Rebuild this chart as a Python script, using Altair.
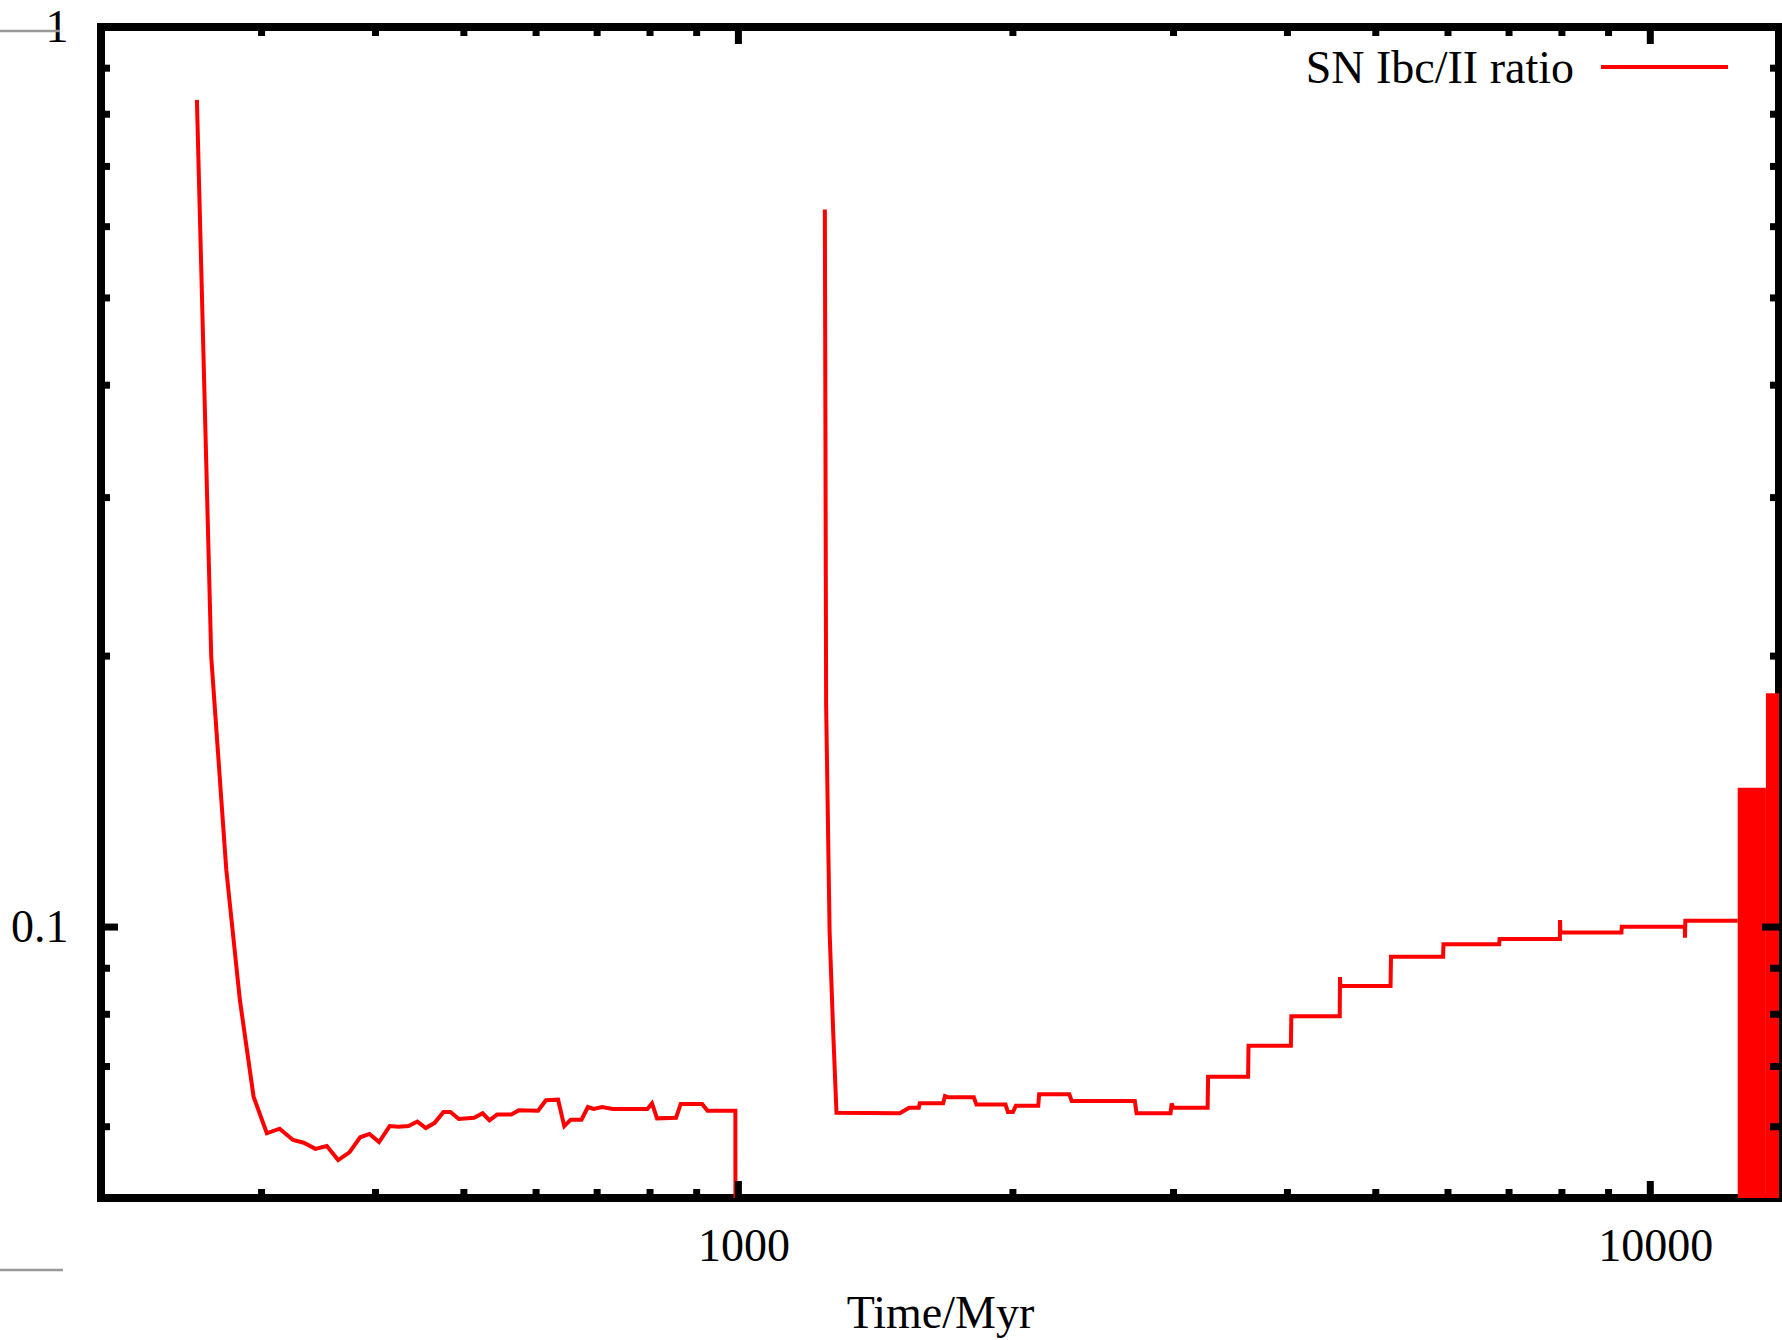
import altair as alt
import pandas as pd

# ---- data ----
seg1_t = [254.8, 264.2, 274.4, 284.0, 294.0, 304.0, 314.0, 324.8, 333.7, 343.6,
          353.7, 364.0, 374.5, 384.8, 394.0, 403.6, 414.6, 423.7, 434.8, 444.6,
          454.2, 464.5, 474.9, 483.3, 493.6, 513.1, 524.2, 533.3, 543.8, 563.6,
          574.6, 603.1, 615.0, 634.3, 644.2, 654.9, 672.9, 683.9, 694.0, 708.8,
          728.4, 794.8, 804.0, 814.3, 854.4, 864.5, 912.5, 925.0, 992.4, 993.0]
seg1_r = [0.830, 0.1995, 0.1159, 0.0830, 0.0648, 0.0590, 0.0597, 0.0580, 0.0576, 0.0567,
          0.0571, 0.0551, 0.0562, 0.0584, 0.0589, 0.0577, 0.0601, 0.0600, 0.0601, 0.0608,
          0.0598, 0.0606, 0.0623, 0.0623, 0.0612, 0.0614, 0.0621, 0.0610, 0.0619, 0.0619,
          0.0626, 0.0625, 0.0642, 0.0643, 0.0601, 0.0611, 0.0611, 0.0631, 0.0628, 0.0631,
          0.0628, 0.0628, 0.0637, 0.0613, 0.0614, 0.0636, 0.0636, 0.0625, 0.0625, 0.03]

seg2_t = [1244, 1248, 1259, 1270, 1281, 1503, 1539, 1577, 1581, 1677,
          1685, 1698, 1812, 1824, 1963, 1975, 2000, 2015, 2132, 2137,
          2306, 2320, 2721, 2733, 2978, 2986, 2998, 3270, 3274, 3622,
          3626, 4035, 4040, 4565, 4568, 4572, 5190, 5196, 5926, 5932,
          6828, 6835, 7959, 7962, 7970, 9298, 9305, 10910, 10915, 10925,
          12470]
seg2_r = [0.627, 0.1766, 0.0988, 0.0772, 0.0622, 0.0621, 0.0630, 0.0630, 0.0637, 0.0637,
          0.0649, 0.0647, 0.0647, 0.0635, 0.0635, 0.0623, 0.0623, 0.0633, 0.0633, 0.0652,
          0.0652, 0.0641, 0.0641, 0.0621, 0.0621, 0.0637, 0.0630, 0.0630, 0.0682, 0.0682,
          0.0738, 0.0738, 0.0796, 0.0796, 0.0880, 0.0860, 0.0860, 0.0927, 0.0927, 0.0957,
          0.0957, 0.0970, 0.0970, 0.1018, 0.0986, 0.0986, 0.1001, 0.1001, 0.0973, 0.1016,
          0.1016]

# dense, oscillating end of the series (drawn as a solid red block)
block_start = [12470, 13390]
block_end = [13390, 13840]
block_top = [0.1428, 0.1819]

x_major = [1000, 10000]
x_minor = [300, 400, 500, 600, 700, 800, 900,
           2000, 3000, 4000, 5000, 6000, 7000, 8000, 9000]
y_major = [0.1]
y_minor = [0.06, 0.07, 0.08, 0.09, 0.2, 0.3, 0.4, 0.5, 0.6, 0.7, 0.8, 0.9]
x_labels = [1000, 10000]
y_labels = [0.1, 1]

legend_label = "SN Ibc/II ratio"
x_title = "Time/Myr"

# ---- layout ----
W, H = 1678, 1171
RED = "#ff0000"
FONT = "Liberation Serif"
FS = 46
LW = 4
MAJ, MIN = 17, 9

line_df = pd.DataFrame({
    "t": seg1_t + seg2_t,
    "ratio": seg1_r + seg2_r,
    "seg": ["a"] * len(seg1_t) + ["b"] * len(seg2_t),
    "i": list(range(len(seg1_t) + len(seg2_t))),
})
block_df = pd.DataFrame({"x0": block_start, "x1": block_end, "top": block_top})
xmaj_df = pd.DataFrame({"v": x_major})
xmin_df = pd.DataFrame({"v": x_minor})
ymaj_df = pd.DataFrame({"v": y_major})
ymin_df = pd.DataFrame({"v": y_minor})

xs = alt.Scale(type="log", domain=[200, 13840], nice=False)
ys = alt.Scale(type="log", domain=[0.05, 1], nice=False)

x_axis = alt.Axis(values=x_labels, format="d", title=x_title, ticks=False, domain=False,
                  grid=False, labelFont=FONT, labelFontSize=FS, labelColor="black",
                  labelPadding=26, labelFlush=False, labelOffset=5,
                  titleFont=FONT, titleFontSize=FS, titleFontWeight="normal", titleColor="black",
                  titleBaseline="alphabetic", titleY=129, titleX=W / 2)
y_axis = alt.Axis(values=y_labels, format="~g", title="", ticks=False, domain=False,
                  grid=False, labelFont=FONT, labelFontSize=FS, labelColor="black",
                  labelPadding=33, labelFlush=False)


def X(field):
    return alt.X(field, scale=xs, axis=x_axis, title=x_title)


def Y(field):
    return alt.Y(field, scale=ys, axis=y_axis, title="")


lines = alt.Chart(line_df).mark_line(color=RED, strokeWidth=LW, clip=True).encode(
    x=X("t:Q"),
    y=Y("ratio:Q"),
    detail="seg:N",
    order="i:Q",
)

block = alt.Chart(block_df).mark_rect(color=RED, clip=True).encode(
    x=X("x0:Q"),
    x2="x1:Q",
    y=Y("top:Q"),
    y2=alt.datum(0.05),
)


def xticks(df, ln):
    bottom = alt.Chart(df).mark_rule(color="black", strokeWidth=7).encode(
        x=X("v:Q"), y=alt.value(H), y2=alt.value(H - ln))
    top = alt.Chart(df).mark_rule(color="black", strokeWidth=7).encode(
        x=X("v:Q"), y=alt.value(0), y2=alt.value(ln))
    return [bottom, top]


def yticks(df, ln):
    left = alt.Chart(df).mark_rule(color="black", strokeWidth=7).encode(
        y=Y("v:Q"), x=alt.value(0), x2=alt.value(ln))
    right = alt.Chart(df).mark_rule(color="black", strokeWidth=7).encode(
        y=Y("v:Q"), x=alt.value(W), x2=alt.value(W - ln))
    return [left, right]


ticks = xticks(xmaj_df, MAJ) + xticks(xmin_df, MIN) + yticks(ymaj_df, MAJ) + yticks(ymin_df, MIN)

leg_df = pd.DataFrame({"label": [legend_label]})
leg_text = alt.Chart(leg_df).mark_text(
    font=FONT, fontSize=FS, align="right", baseline="alphabetic", color="black"
).encode(text="label:N", x=alt.value(1473), y=alt.value(56))
leg_line = alt.Chart(leg_df).mark_rule(color=RED, strokeWidth=LW).encode(
    x=alt.value(1500), x2=alt.value(1627), y=alt.value(40))

# small grey strokes at the left margin of the original figure
deco_top = alt.Chart(leg_df).mark_rule(color="#999999", strokeWidth=2.5).encode(
    x=alt.value(-101), x2=alt.value(-41), y=alt.value(4))
deco_bot = alt.Chart(leg_df).mark_rule(color="#999999", strokeWidth=2.5).encode(
    x=alt.value(-101), x2=alt.value(-38), y=alt.value(1243))

chart = alt.layer(lines, block, *ticks, leg_text, leg_line, deco_top, deco_bot).properties(
    width=W, height=H,
    background="white",
    autosize=alt.AutoSizeParams(type="none"),
    padding={"left": 101, "top": 27, "right": 3, "bottom": 142},
).configure_view(stroke="black", strokeWidth=8)

chart.save("out.html", embed_options={"renderer": "svg", "actions": False})
